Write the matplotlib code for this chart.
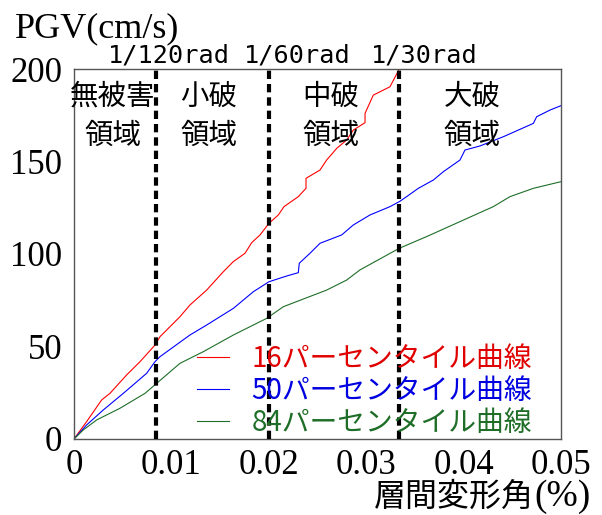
import numpy as np
import matplotlib
matplotlib.use('Agg')
import matplotlib.pyplot as plt

# 層間変形角 (x) と PGV (y)
x16 = [0, 0.0013, 0.00284, 0.0037, 0.0054, 0.00678, 0.00832, 0.00883, 0.01088, 0.0119,
       0.01362, 0.01533, 0.01636, 0.01756, 0.01824, 0.0191, 0.02002, 0.02098, 0.02156,
       0.02303, 0.02382, 0.02382, 0.02526, 0.02594, 0.02697, 0.02799, 0.02868, 0.02988,
       0.02988, 0.03073, 0.03244, 0.0334, 0.0338]
y16 = [0, 9.4, 21.1, 24.7, 34.6, 41.8, 50.8, 55.3, 66.1, 72.4,
       80.5, 90.4, 95.9, 100.4, 106.1, 110.3, 116.6, 121.1, 125.6,
       131.0, 135.5, 140.9, 145.4, 150.8, 157.1, 161.6, 167.0, 171.0,
       176.0, 185.9, 190.4, 200.0, 206.0]

x50 = [0, 0.0013, 0.00301, 0.00507, 0.00746, 0.00832, 0.00883, 0.0119, 0.01362, 0.01636,
       0.01841, 0.02002, 0.02183, 0.02303, 0.02313, 0.02423, 0.02526, 0.02748, 0.02868,
       0.03039, 0.03244, 0.0334, 0.03415, 0.03535, 0.0369, 0.03792, 0.03963, 0.04014,
       0.04168, 0.04408, 0.04716, 0.0475, 0.04887, 0.05]
y50 = [0, 7.6, 15.7, 24.7, 35.5, 41.8, 44.5, 56.2, 61.6, 70.6,
       79.6, 85.0, 88.1, 89.9, 95.0, 100.4, 105.8, 110.3, 115.7,
       121.1, 125.6, 128.3, 131.0, 135.5, 140.0, 144.5, 150.8, 156.2,
       158.4, 163.4, 170.6, 174.2, 177.8, 180.2]

x84 = [0, 0.00096, 0.00233, 0.00472, 0.0073, 0.00849, 0.01088, 0.01328, 0.01636, 0.01978,
       0.02149, 0.02594, 0.02799, 0.02936, 0.0334, 0.0362, 0.04305, 0.04476, 0.04716, 0.05]
y84 = [0, 4.9, 10.3, 16.6, 24.7, 30.1, 40.9, 47.2, 56.2, 65.2,
       71.5, 80.5, 85.9, 91.4, 103.1, 109.4, 125.6, 131.0, 135.5, 139.1]

limits = [0.0084, 0.0200, 0.0334]
limit_labels = ['1/120rad', '1/60rad', '1/30rad']
limit_label_x = [0.00975, 0.02295, 0.0360]
zones_top = ['無被害', '小破', '中破', '大破']
zones_bottom = ['領域', '領域', '領域', '領域']
zone_x = [0.00395, 0.01386, 0.02634, 0.04086]
series_labels = ['16パーセンタイル曲線', '50パーセンタイル曲線', '84パーセンタイル曲線']
colors = ['#ff0000', '#0000ff', '#1e6e28']
text_colors = ['#e00000', '#0000e0', '#1e6e28']

JP = ['Noto Sans CJK JP', 'DejaVu Sans']
SERIF = 'Liberation Serif'

fig = plt.figure(figsize=(6.02, 5.15), dpi=100)
ax = fig.add_axes([0.1229, 0.1476, 0.809, 0.7184])

for xs, ys, c, lab in zip([x16, x50, x84], [y16, y50, y84], colors, series_labels):
    ax.plot(xs, ys, color=c, lw=0.8, label=lab)

for x in limits:
    ax.axvline(x, color='black', lw=3, linestyle=(0, (2.0, 1.2)), zorder=3)

ax.set_xlim(0, 0.05)
ax.set_ylim(0, 200)
ax.set_xticks([0, 0.01, 0.02, 0.03, 0.04, 0.05])
ax.set_xticklabels(['0', '0.01', '0.02', '0.03', '0.04', '0.05'])
ax.set_yticks([0, 50, 100, 150, 200])
ax.tick_params(length=0, labelsize=25)
ax.tick_params(axis='x', pad=7)
ax.tick_params(axis='y', pad=8.5)
for t in ax.get_xticklabels() + ax.get_yticklabels():
    t.set_family(SERIF)
for s in ax.spines.values():
    s.set_color('#555555')
    s.set_linewidth(1)

for zx, top, bot in zip(zone_x, zones_top, zones_bottom):
    ax.text(zx, 185.1, top, ha='center', va='center', fontsize=20.5, family=JP)
    ax.text(zx, 164.1, bot, ha='center', va='center', fontsize=20.5, family=JP)

for x, lab in zip(limit_label_x, limit_labels):
    ax.text(x, 203.5, lab, ha='center', va='baseline', fontsize=18.2,
            family='DejaVu Sans Mono', clip_on=False)

leg = ax.legend(loc='lower left', bbox_to_anchor=(0.213, -0.05), frameon=False,
                prop={'family': JP, 'size': 20}, handlelength=1.15,
                handletextpad=0.8, labelspacing=0.08, borderpad=0.2)
for t, c in zip(leg.get_texts(), text_colors):
    t.set_color(c)

fig.text(0.025, 0.928, 'PGV(cm/s)', ha='left', va='baseline', fontsize=26, family=SERIF)
fig.text(0.887, 0.017, '層間変形角', ha='right', va='baseline', fontsize=23, family=JP)
fig.text(0.887, 0.017, '(%)', ha='left', va='baseline', fontsize=27, family=SERIF)

fig.savefig('out.png', dpi=100)
